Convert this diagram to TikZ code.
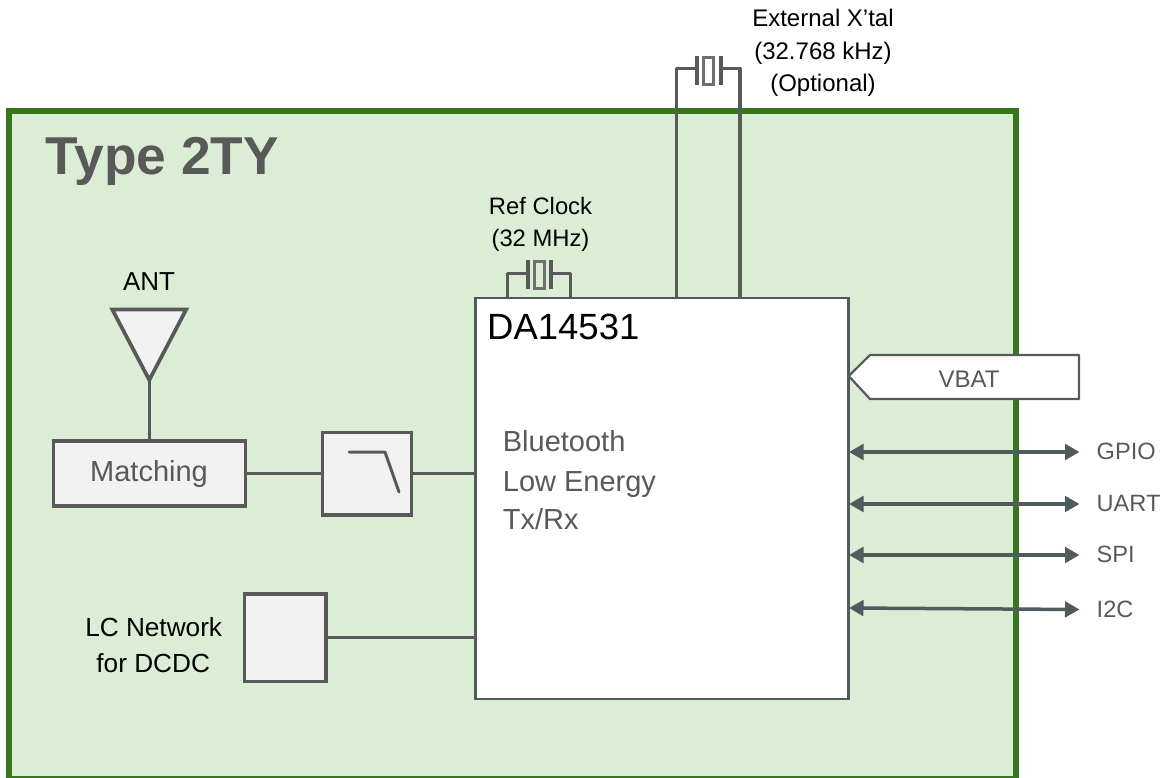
\documentclass[tikz,border=0pt]{standalone}
\usepackage{fontspec}
\setmainfont{Liberation Sans}
\usetikzlibrary{arrows.meta}
\definecolor{boardfill}{HTML}{DCEDD6}
\definecolor{boardline}{HTML}{38761D}
\definecolor{ink}{HTML}{595959}
\definecolor{corecol}{HTML}{707070}
\definecolor{blockfill}{HTML}{F2F2F2}
\definecolor{busline}{HTML}{4F5B5C}
\newcommand{\fs}[1]{\fontsize{#1}{#1}\selectfont}
\tikzset{
  board/.style={draw=boardline,fill=boardfill,line width=5.8pt},
  block/.style={draw=ink,fill=blockfill,line width=3.7pt,inner sep=0pt,outer sep=0pt},
  chipbox/.style={draw=busline,fill=white,line width=2.6pt,inner sep=0pt,outer sep=0pt},
  wire/.style={draw=ink,line width=2.5pt},
  xwire/.style={draw=ink,line width=3.2pt,line join=round},
  plate/.style={fill=ink,inner sep=0pt,outer sep=0pt,minimum width=3.8pt,minimum height=29pt},
  xcore/.style={draw=corecol,fill=none,line width=2.6pt,inner sep=0pt,outer sep=0pt,minimum width=10pt,minimum height=26.5pt},
  bus/.style={draw=busline,line width=3.5pt,{Triangle[length=14.5pt,width=15.5pt]}-{Triangle[length=14.5pt,width=15.5pt]}},
  blacklabel/.style={text=black,align=center,anchor=base,inner sep=0pt},
  graylabel/.style={text=ink,anchor=base west,inner sep=0pt},
}
\begin{document}
\begin{tikzpicture}[x=1pt,y=-1pt]
\useasboundingbox (0,0) rectangle (1163,778);
\begin{scope}
\clip (0,0) rectangle (1163,778);
\node[board,inner sep=0pt,outer sep=0pt,minimum width=1007.3pt,minimum height=667.7pt] (boardbox) at (512.65,444.85) {};
\end{scope}
\node[graylabel,font=\bfseries\fs{53.3}] (title) at (45.7,175) {Type 2TY};

% chip
\node[chipbox,minimum width=373.2pt,minimum height=401pt] (chip) at (662.1,498.5) {};
\node[text=black,anchor=base west,inner sep=0pt,font=\fs{36.5}] (chipname) at (487,340) {DA14531};
\node[graylabel,font=\fs{29}] (bt1) at (502.7,451.7) {Bluetooth};
\node[graylabel,font=\fs{29}] (bt2) at (502.7,491) {Low Energy};
\node[graylabel,font=\fs{29}] (bt3) at (502.7,529.5) {Tx/Rx};

% external crystal
\node[xcore] (xcoreA) at (708.2,71) {};
\node[plate] (xplateAL) at (697.3,71) {};
\node[plate] (xplateAR) at (720.8,71) {};
\coordinate (xpinAL) at (676.7,297);
\coordinate (xpinAR) at (740,297);
\coordinate (xleadA) at (709,68.3);
\draw[xwire] (xpinAL) |- (xplateAL.west |- xleadA);
\draw[xwire] (xpinAR) |- (xplateAR.east |- xleadA);
\node[blacklabel,font=\fs{24}] (xlab1) at (823,27) {External X’tal};
\node[blacklabel,font=\fs{24}] (xlab2) at (823,60) {(32.768 kHz)};
\node[blacklabel,font=\fs{24}] (xlab3) at (823,92) {(Optional)};

% reference crystal
\node[xcore] (xcoreB) at (539.5,275) {};
\node[plate] (xplateBL) at (527.8,275) {};
\node[plate] (xplateBR) at (551,275) {};
\coordinate (xpinBL) at (507.3,297);
\coordinate (xpinBR) at (570.7,297);
\coordinate (xleadB) at (539,273.3);
\draw[xwire] (xpinBL) |- (xplateBL.west |- xleadB);
\draw[xwire] (xpinBR) |- (xplateBR.east |- xleadB);
\node[blacklabel,font=\fs{23.8}] (reflab1) at (540.5,215) {Ref Clock};
\node[blacklabel,font=\fs{23.8}] (reflab2) at (540.5,247) {(32 MHz)};

% antenna path
\node[blacklabel,font=\fs{26}] (antlab) at (149,291) {ANT};
\node[block,minimum width=192pt,minimum height=65pt] (matching) at (149.5,473.5) {};
\node[text=ink,font=\fs{29},inner sep=0pt,anchor=base] (matchlab) at (149,481.7) {Matching};
\node[block,minimum width=89pt,minimum height=82.5pt] (filter) at (367,473.7) {};
\coordinate (anttip) at (149.3,380);
\coordinate (wirey) at (0,473.3);
\draw[wire] (anttip) -- (anttip |- matching.north);
\draw[draw=ink,fill=blockfill,line width=3.7pt,miter limit=6] (112.3,309.5) -- (186.2,309.5) -- (anttip) -- cycle;
\draw[wire] (matching.east |- wirey) -- (filter.west |- wirey);
\draw[wire] (filter.east |- wirey) -- (chip.west |- wirey);
\draw[draw=ink,line width=3pt,line cap=round,line join=round] (349,452) -- (385,452) -- (399,492);

% LC network
\node[block,minimum width=81.5pt,minimum height=87.5pt] (lc) at (285.2,637.7) {};
\node[blacklabel,font=\fs{26.2}] (lclab1) at (153.7,636.7) {LC Network};
\node[blacklabel,font=\fs{26.2}] (lclab2) at (153.2,672.7) {for DCDC};
\coordinate (lcy) at (0,637.7);
\draw[wire] (lc.east |- lcy) -- (chip.west |- lcy);

% VBAT
\coordinate (vtip) at (chip.east |- 0,376);
\draw[draw=ink,fill=white,line width=2.2pt,line join=round] (vtip) -- (870,355) -- (1079,355) -- (1079,399) -- (870,399) -- cycle;
\node[text=ink,font=\fs{24},inner sep=0pt] (vbat) at (969,379.5) {VBAT};

% buses
\coordinate (gpioend) at (1079.5,452);
\coordinate (uartend) at (1079.5,504);
\coordinate (spiend) at (1079.5,555);
\coordinate (i2cstart) at (849,608);
\coordinate (i2cend) at (1079.5,609.5);
\draw[bus] (849,452) -- (gpioend);
\draw[bus] (849,504) -- (uartend);
\draw[bus] (849,555) -- (spiend);
\draw[bus] (i2cstart) -- (i2cend);
\node[graylabel,font=\fs{23.6}] (gpio) at (1096.5,459) {GPIO};
\node[graylabel,font=\fs{23.6}] (uart) at (1096.5,511) {UART};
\node[graylabel,font=\fs{23.6}] (spi) at (1096.5,562.3) {SPI};
\node[graylabel,font=\fs{23.6}] (i2c) at (1096.5,617.3) {I2C};
\end{tikzpicture}
\end{document}
